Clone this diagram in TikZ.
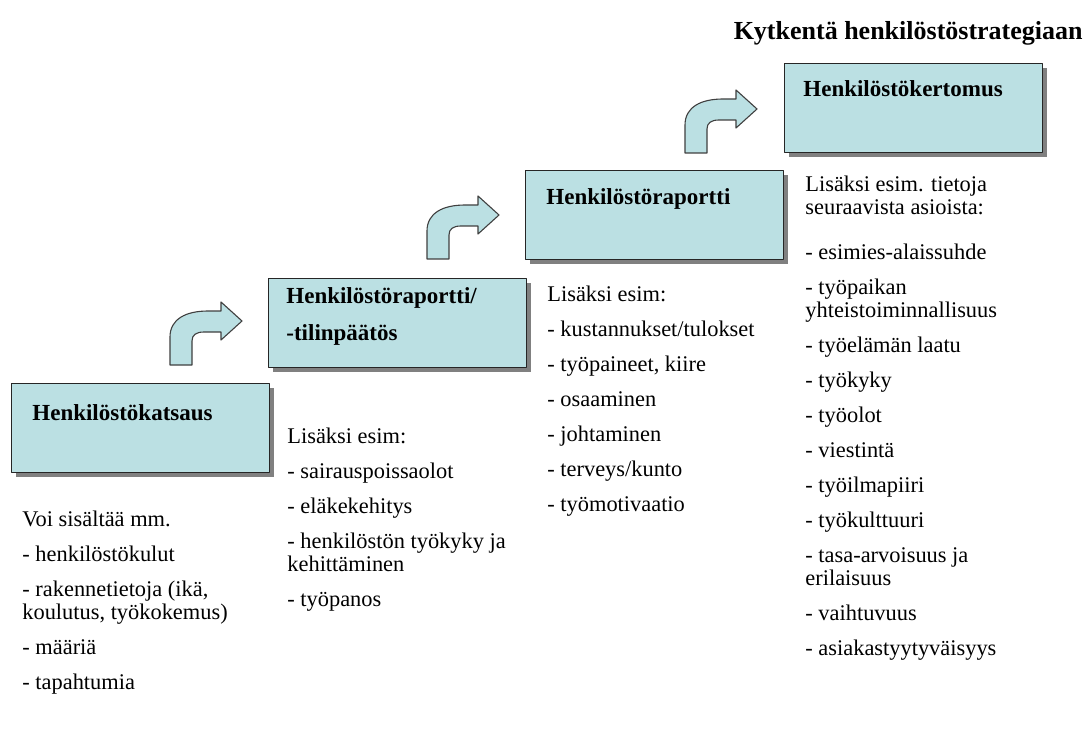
\documentclass[tikz,border=0pt]{standalone}
\usepackage{fontspec}
\setmainfont{Liberation Serif}
\usetikzlibrary{calc,shadows}

\definecolor{boxblue}{RGB}{187,224,227}

% bent arrow, origin at lower left corner of the stem
\newcommand{\bentarrow}[1]{%
  \begin{scope}[shift={#1}]
    \draw[turnarrow] (0,0) -- (0,-28)
      .. controls (0,-46) and (16,-54) .. (38,-54)
      -- (51,-54) -- (51,-63) -- (72,-44) -- (51,-25) -- (51,-33) -- (34,-33)
      .. controls (26,-33) and (22,-30) .. (22,-24) -- (22,0) -- cycle;
  \end{scope}}

\begin{document}
\begin{tikzpicture}[
    x=0.5pt, y=-0.5pt,
    line join=round,
    stepbox/.style={draw=black!85, line width=0.55pt, fill=boxblue,
        anchor=north west, inner sep=0pt,
        minimum width=129pt, minimum height=44.5pt,
        drop shadow={shadow xshift=2pt, shadow yshift=-2pt, fill=black!50, opacity=1}},
    boxtitle/.style={font=\fontsize{11.5}{18.5}\selectfont\bfseries, inner sep=0pt, align=left},
    listtext/.style={font=\fontsize{11.2}{11.5}\selectfont, anchor=north west, inner sep=0pt, align=left},
    turnarrow/.style={draw=black!75, line width=0.55pt, fill=boxblue}
]

% Page
\useasboundingbox[fill=white] (0,0) rectangle (1086,743);

% Title
\node[font=\fontsize{13}{15}\selectfont\bfseries, anchor=base east, inner sep=0pt] (title)
    at (1083,40) {Kytkentä henkilöstöstrategiaan};

% Steps
\node[stepbox] (katsaus) at (11,383) {};
\node[stepbox] (tilinpaatos) at (268,278) {};
\node[stepbox] (raportti) at (525,170) {};
\node[stepbox] (kertomus) at (784,63) {};

\node[boxtitle, anchor=base west] (katsaus-t) at ($(katsaus.north west)+(21,37)$) {Henkilöstökatsaus};
\node[boxtitle, anchor=north west] (tilinpaatos-t) at ($(tilinpaatos.north west)+(18,9)$)
    {Henkilöstöraportti/\\-tilinpäätös};
\node[boxtitle, anchor=base west] (raportti-t) at ($(raportti.north west)+(21,35)$) {Henkilöstöraportti};
\node[boxtitle, anchor=base west] (kertomus-t) at ($(kertomus.north west)+(19,34)$) {Henkilöstökertomus};

% Arrows between the steps
\bentarrow{(170,365)}
\bentarrow{(427,259)}
\bentarrow{(685,153)}

% Contents
\node[listtext] (katsaus-l) at (22,511) {%
    Voi sisältää mm.\\[6pt]
    - henkilöstökulut\\[6pt]
    - rakennetietoja (ikä,\\
    koulutus, työkokemus)\\[6pt]
    - määriä\\[6pt]
    - tapahtumia};

\node[listtext] (tilinpaatos-l) at (287,428) {%
    Lisäksi esim:\\[6pt]
    - sairauspoissaolot\\[6pt]
    - eläkekehitys\\[6pt]
    - henkilöstön työkyky ja\\
    kehittäminen\\[6pt]
    - työpanos};

\node[listtext] (raportti-l) at (547,286) {%
    Lisäksi esim:\\[6pt]
    - kustannukset/tulokset\\[6pt]
    - työpaineet, kiire\\[6pt]
    - osaaminen\\[6pt]
    - johtaminen\\[6pt]
    - terveys/kunto\\[6pt]
    - työmotivaatio};

\node[listtext] (kertomus-l) at (805,176) {%
    Lisäksi esim. tietoja\\
    seuraavista asioista:\\[11pt]
    - esimies-alaissuhde\\[6pt]
    - työpaikan\\
    yhteistoiminnallisuus\\[6pt]
    - työelämän laatu\\[6pt]
    - työkyky\\[6pt]
    - työolot\\[6pt]
    - viestintä\\[6pt]
    - työilmapiiri\\[6pt]
    - työkulttuuri\\[6pt]
    - tasa-arvoisuus ja\\
    erilaisuus\\[6pt]
    - vaihtuvuus\\[6pt]
    - asiakastyytyväisyys};

\end{tikzpicture}
\end{document}
